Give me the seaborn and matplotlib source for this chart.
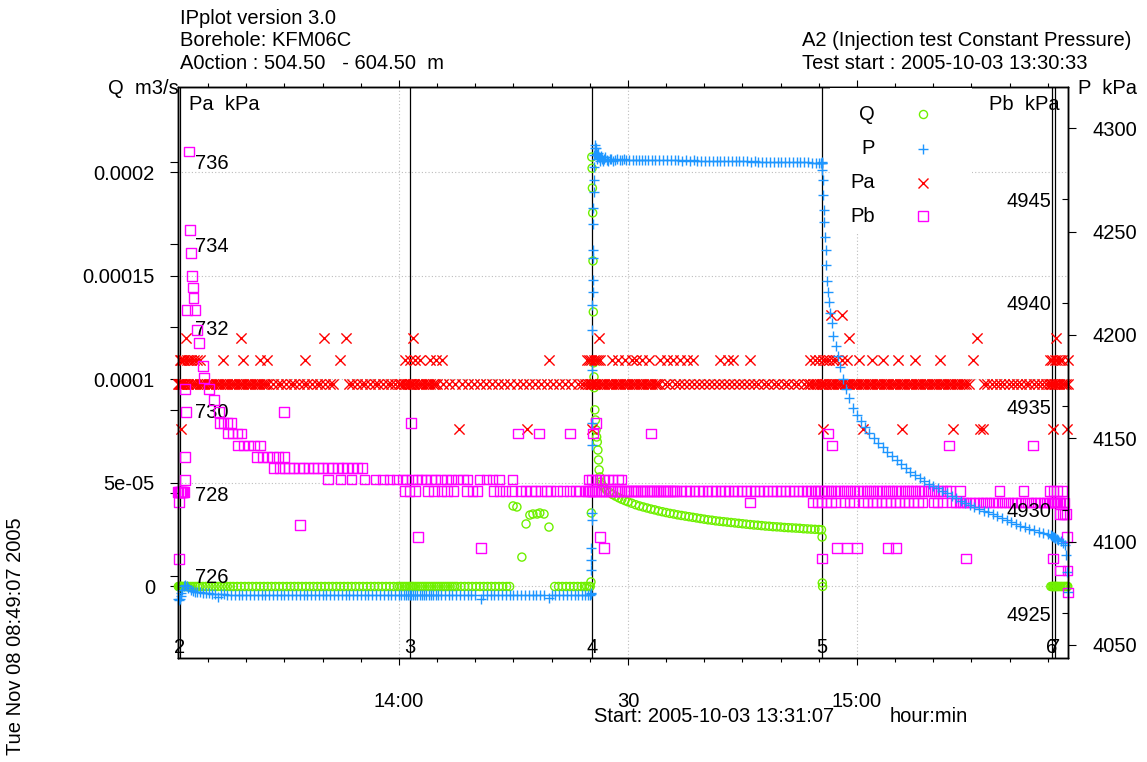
import matplotlib
matplotlib.use("Agg")
import matplotlib.pyplot as plt
from matplotlib.ticker import FixedLocator, FixedFormatter, MultipleLocator
from matplotlib.lines import Line2D
from matplotlib.patches import Rectangle
import pandas as pd
import seaborn as sns

plt.rcParams["font.family"] = ["Liberation Sans", "DejaVu Sans"]
FS = 14.5

# ---------------------------------------------------------------------------
# Time is given in minutes after 13:00 on 2005-10-03.
# ---------------------------------------------------------------------------
T_MIN, T_MAX = 31.05, 147.65
time_ticks = [60, 90, 120]
time_tick_labels = ["14:00", "30", "15:00"]

event_t = [31.3, 61.44, 85.25, 115.42, 145.5, 145.9]
event_labels = ["2", "3", "4", "5", "6", "7"]

# ---------------- Q, flow rate (m3/s) ----------------
Q_ZERO = 0.0
q_zero_t = [31.1, 31.2, 31.3, 31.4, 31.5, 31.6, 31.8, 32.0, 32.2, 32.4, 32.7, 33.0, 33.3,
            33.6, 33.9, 34.3, 34.7, 35.1, 35.5, 35.9, 36.3, 36.7, 37.1, 37.5, 37.9, 38.3,
            38.8, 39.3, 39.8, 40.3, 40.8, 41.3, 41.8, 42.3, 42.8, 43.3, 43.8, 44.3, 44.8,
            45.3, 45.8, 46.3, 46.8, 47.3, 47.8, 48.3, 48.8, 49.3, 49.8, 50.3, 50.8, 51.3,
            51.8, 52.3, 52.8, 53.3, 53.8, 54.3, 54.8, 55.3, 55.8, 56.3, 56.8, 57.3, 57.8,
            58.3, 58.8, 59.3, 59.8, 60.1, 60.4, 60.7, 61.0, 61.3, 61.5, 61.7, 61.9, 62.2,
            62.5, 62.8, 63.1, 63.4, 63.7, 64.0, 64.3, 64.6, 64.9, 65.2, 65.5, 65.8, 66.1,
            66.4, 66.7, 67.0, 67.3, 67.6, 68.1, 68.6, 69.1, 69.6, 70.1, 70.6, 71.1, 71.6,
            72.1, 72.6, 73.1, 73.6, 74.1, 74.5,
            80.4, 80.9, 81.4, 81.9, 82.4, 82.9, 83.4, 83.9, 84.3, 84.6, 84.9, 85.05,
            115.5,
            145.4, 145.55, 145.7, 145.8, 145.9, 146.0, 146.15, 146.3, 146.5, 146.7, 146.9,
            147.1, 147.3, 147.5, 147.62]
q_gap = [(74.95, 3.89e-5), (75.45, 3.84e-5), (76.1, 1.42e-5), (76.65, 3.02e-5),
         (77.15, 3.45e-5), (77.55, 3.50e-5), (78.1, 3.50e-5), (78.45, 3.55e-5),
         (79.0, 3.50e-5), (79.65, 2.87e-5)]
q_injection = [
    (85.15, 0.22e-5), (85.2, 3.55e-5), (85.26, 2.074e-4), (85.3, 2.02e-4), (85.34, 1.924e-4),
    (85.38, 1.804e-4), (85.42, 1.572e-4), (85.46, 1.326e-4), (85.5, 1.08e-4), (85.55, 1.012e-4),
    (85.58, 0.96e-4), (85.66, 0.853e-4), (85.74, 0.804e-4), (85.82, 0.756e-4), (85.9, 0.722e-4),
    (85.98, 0.698e-4), (86.06, 0.659e-4), (86.14, 0.611e-4), (86.22, 0.563e-4), (86.32, 0.529e-4),
    (86.45, 0.505e-4), (86.6, 0.49e-4),
    (86.8, 4.80e-5), (87.2, 4.66e-5), (87.6, 4.54e-5), (88.0, 4.44e-5), (88.4, 4.36e-5),
    (88.8, 4.28e-5), (89.2, 4.21e-5), (89.6, 4.15e-5), (90.0, 4.09e-5), (90.5, 4.02e-5),
    (91.0, 3.95e-5), (91.5, 3.89e-5), (92.0, 3.84e-5), (92.5, 3.79e-5), (93.0, 3.74e-5),
    (93.5, 3.70e-5), (94.0, 3.65e-5), (94.5, 3.61e-5), (95.0, 3.57e-5), (95.5, 3.53e-5),
    (96.0, 3.50e-5), (96.5, 3.46e-5), (97.0, 3.43e-5), (97.5, 3.40e-5), (98.0, 3.37e-5),
    (98.5, 3.34e-5), (99.0, 3.31e-5), (99.5, 3.28e-5), (100.0, 3.25e-5), (100.5, 3.22e-5),
    (101.0, 3.20e-5), (101.5, 3.17e-5), (102.0, 3.15e-5), (102.5, 3.13e-5), (103.0, 3.11e-5),
    (103.5, 3.09e-5), (104.0, 3.07e-5), (104.5, 3.05e-5), (105.0, 3.03e-5), (105.5, 3.01e-5),
    (106.0, 2.99e-5), (106.5, 2.97e-5), (107.0, 2.96e-5), (107.5, 2.94e-5), (108.0, 2.92e-5),
    (108.5, 2.91e-5), (109.0, 2.89e-5), (109.5, 2.88e-5), (110.0, 2.87e-5), (110.5, 2.85e-5),
    (111.0, 2.84e-5), (111.5, 2.83e-5), (112.0, 2.82e-5), (112.5, 2.81e-5), (113.0, 2.79e-5),
    (113.5, 2.78e-5), (114.0, 2.77e-5), (114.5, 2.76e-5), (115.0, 2.75e-5), (115.35, 2.74e-5),
    (115.43, 2.39e-5), (115.46, 0.17e-5)]

# ---------------- P, test section pressure (kPa) ----------------
p_start = [(31.1, 4072.3), (31.2, 4071.8), (31.3, 4072.4), (31.4, 4073.5), (31.5, 4075.0),
           (31.6, 4076.4), (31.8, 4078.5), (32.0, 4079.0), (32.2, 4078.3), (32.4, 4077.8),
           (32.7, 4076.5), (33.0, 4076.0), (33.3, 4075.7), (33.6, 4075.5), (33.9, 4075.6),
           (34.3, 4075.2), (34.7, 4075.0), (35.1, 4075.1), (35.5, 4074.8), (35.9, 4074.7),
           (36.3, 4073.3), (36.7, 4074.7), (37.1, 4074.5)]
P_PRE = 4074.2
p_pre_t = [37.5, 38.0, 38.5, 39.0, 39.5, 40.0, 40.5, 41.0, 41.5, 42.0, 42.5, 43.0, 43.5, 44.0,
           44.5, 45.0, 45.5, 46.0, 46.5, 47.0, 47.5, 48.0, 48.5, 49.0, 49.5, 50.0, 50.5, 51.0,
           51.5, 52.0, 52.5, 53.0, 53.5, 54.0, 54.5, 55.0, 55.5, 56.0, 56.5, 57.0, 57.5, 58.0,
           58.5, 59.0, 59.5, 60.0, 60.3, 60.6, 60.9, 61.2, 61.4, 61.6, 61.8, 62.1, 62.4, 62.7,
           63.0, 63.3, 63.6, 63.9, 64.2, 64.5, 64.8, 65.1, 65.5, 66.0, 66.5, 67.0, 67.5, 68.0,
           68.5, 69.0, 69.5, 70.0, 71.0, 71.5, 72.0, 72.5, 73.0, 73.5, 74.0, 74.5, 75.0, 75.5,
           76.0, 76.5, 77.0, 77.5, 78.0, 78.5, 79.0, 80.0, 80.5, 81.0, 81.5, 82.0, 82.5, 83.0,
           83.5, 84.0, 84.4, 84.7, 85.0]
p_low = [(70.7, 4072.3), (79.7, 4072.6)]
p_injection = [
    (85.12, 4074.5), (85.15, 4075.0), (85.17, 4086.3), (85.19, 4091.1), (85.21, 4096.9),
    (85.23, 4110.5), (85.25, 4113.9), (85.27, 4146.8), (85.29, 4157.4), (85.31, 4183.0),
    (85.33, 4202.4), (85.35, 4214.5), (85.37, 4220.8), (85.39, 4226.6), (85.41, 4237.2),
    (85.43, 4241.1), (85.45, 4253.7), (85.47, 4261.4), (85.49, 4269.2), (85.52, 4274.9),
    (85.55, 4281.2), (85.6, 4287.0), (85.66, 4290.5), (85.72, 4291.8), (85.8, 4290.3),
    (85.88, 4287.6), (85.96, 4285.2), (86.04, 4286.8), (86.12, 4288.0), (86.2, 4286.1),
    (86.3, 4284.3), (86.4, 4285.6), (86.5, 4286.4), (86.6, 4285.0), (86.75, 4284.0),
    (86.9, 4285.3), (87.05, 4286.0), (87.2, 4284.6), (87.4, 4284.2), (87.6, 4285.4),
    (87.8, 4285.1), (88.0, 4284.3), (88.3, 4284.9), (88.6, 4285.3), (88.9, 4284.5),
    (89.2, 4284.8), (89.5, 4285.1), (89.8, 4284.6), (90.2, 4284.9), (90.6, 4284.7),
    (91.0, 4284.9), (91.4, 4284.6), (91.8, 4284.8), (92.2, 4284.7), (92.6, 4284.8),
    (93.1, 4284.6), (93.6, 4284.7), (94.1, 4284.6), (94.6, 4284.7), (95.1, 4284.5),
    (95.6, 4284.6), (96.1, 4284.5), (96.6, 4284.6), (97.1, 4284.4), (97.6, 4284.5),
    (98.1, 4284.4), (98.6, 4284.5), (99.1, 4284.3), (99.6, 4284.4), (100.1, 4284.3),
    (100.6, 4284.4), (101.1, 4284.2), (101.6, 4284.3), (102.1, 4284.2), (102.6, 4284.2),
    (103.1, 4284.1), (103.6, 4284.2), (104.1, 4284.0), (104.6, 4284.1), (105.1, 4284.0),
    (105.6, 4284.0), (106.1, 4283.9), (106.6, 4284.0), (107.1, 4283.9), (107.6, 4283.9),
    (108.1, 4283.8), (108.6, 4283.9), (109.1, 4283.8), (109.6, 4283.8), (110.1, 4283.7),
    (110.6, 4283.7), (111.1, 4283.6), (111.6, 4283.7), (112.1, 4283.6), (112.6, 4283.6),
    (113.1, 4283.5), (113.6, 4283.5), (114.1, 4283.4), (114.6, 4283.4), (115.0, 4283.4),
    (115.3, 4283.3), (115.38, 4283.3), (115.4, 4283.5)]
p_recovery = [
    (115.42, 4283.2), (115.48, 4279.8), (115.54, 4274.9), (115.6, 4267.7), (115.66, 4260.4),
    (115.72, 4254.6), (115.8, 4247.4), (115.88, 4241.1), (115.96, 4233.8), (116.05, 4226.1),
    (116.15, 4220.8), (116.3, 4215.9), (116.5, 4210.6), (116.7, 4205.8), (116.9, 4199.5),
    (117.2, 4194.7), (117.5, 4189.8), (117.8, 4184.5), (118.2, 4178.7), (118.6, 4173.9),
    (119.0, 4169.5), (119.5, 4164.7), (120.0, 4161.3), (120.5, 4158.4), (121.0, 4155.5),
    (121.6, 4152.6), (122.2, 4150.1), (122.8, 4147.7), (123.4, 4145.8), (124.0, 4143.4),
    (124.6, 4141.4), (125.2, 4139.5), (125.8, 4137.6), (126.4, 4135.6), (127.0, 4133.7),
    (127.6, 4132.2), (128.2, 4130.8), (128.8, 4129.3), (129.4, 4127.9), (130.0, 4126.9),
    (130.6, 4126.0), (131.2, 4124.5), (131.8, 4123.5), (132.4, 4122.1), (133.0, 4121.1),
    (133.6, 4119.7), (134.2, 4118.7), (134.8, 4117.7), (135.4, 4116.8), (136.0, 4115.8),
    (136.6, 4114.8), (137.2, 4114.3), (137.8, 4113.4), (138.4, 4112.4), (139.0, 4111.4),
    (139.6, 4110.5), (140.2, 4109.5), (140.8, 4108.5), (141.4, 4107.6), (142.0, 4107.1),
    (142.6, 4106.1), (143.2, 4105.6), (143.8, 4104.7), (144.4, 4104.2), (145.0, 4103.7),
    (145.4, 4103.2), (145.6, 4102.7), (145.7, 4102.2), (145.8, 4102.2), (145.9, 4101.8),
    (146.0, 4101.8), (146.2, 4101.3), (146.4, 4100.8), (146.7, 4100.3), (147.0, 4099.3),
    (147.3, 4098.5), (147.45, 4093.5), (147.55, 4085.3), (147.62, 4075.6)]

# ---------------- Pa, pressure above packer (kPa) ----------------
PA_BAND = 730.64
pa_band_t = [31.1, 31.2, 31.3, 31.4, 31.5, 31.6, 31.8, 32.0, 32.2, 32.4, 32.7, 33.0, 33.3, 33.6,
             33.9, 34.2, 34.5, 34.8, 35.1, 35.4, 35.7, 36.0, 36.3, 36.6, 36.9, 37.2, 37.5, 37.8,
             38.1, 38.4, 38.7, 39.0, 39.3, 39.6, 39.9, 40.2, 40.5, 40.8, 41.1, 41.4, 41.7, 42.0,
             42.3, 42.6, 42.9, 43.5, 44.1, 44.6, 45.2, 45.8, 46.3, 46.9, 47.5, 48.0, 48.6, 49.2,
             49.7, 50.3, 50.9, 51.4, 53.4, 53.9, 54.5, 55.1, 55.6, 56.2, 56.8, 57.3, 57.9, 58.5,
             59.0, 59.5, 60.0, 60.3, 60.6, 60.9, 61.2, 61.4, 61.5, 61.6, 61.8, 62.0, 62.3, 62.6,
             62.9, 63.2, 63.5, 63.8, 64.1, 64.4, 64.7, 65.0, 65.8, 66.6, 67.4, 68.2, 69.0, 69.8,
             70.6, 71.4, 72.2, 73.0, 73.8, 74.6, 75.4, 76.2, 77.0, 77.8, 78.6, 79.4, 80.2, 81.0,
             81.8, 82.6, 83.4, 84.0, 84.4, 84.7, 85.0, 85.15, 85.3, 85.5, 85.7, 86.0, 86.3, 86.6,
             86.9, 87.2, 87.5, 87.8, 88.1, 88.4, 88.7, 89.0, 89.3, 89.6, 89.9, 90.2, 90.5, 90.8,
             91.1, 91.4, 91.7, 92.0, 92.3, 92.6, 92.9, 93.2, 93.5, 93.8, 94.1, 94.8, 95.4, 96.1,
             96.7, 97.4, 98.0, 98.7, 99.3, 100.0, 100.6, 101.3, 101.9, 102.6, 103.2, 103.9,
             104.5, 105.2, 105.8, 106.5, 107.1, 107.8, 108.4, 109.1, 109.7, 110.4, 111.0, 111.7,
             112.3, 113.0, 113.6, 113.9, 114.2, 114.5, 114.8, 115.1, 115.4, 115.6, 115.8, 116.0,
             116.3, 116.6, 116.9, 117.2, 117.5, 117.8, 118.1, 118.4, 118.7, 119.0, 119.3, 119.6,
             119.9, 120.2, 120.5, 120.8, 121.1, 121.4, 121.7, 122.0, 122.3, 122.6, 122.9, 123.2,
             123.5, 123.8, 124.1, 124.4, 124.7, 125.0, 125.3, 125.6, 125.9, 126.2, 126.5, 126.8,
             127.1, 127.4, 127.7, 128.0, 128.3, 128.6, 128.9, 129.2, 129.5, 129.8, 130.1, 130.4,
             130.7, 131.0, 131.3, 131.6, 131.9, 132.2, 132.5, 132.8, 133.1, 133.4, 133.7, 134.0,
             134.3, 134.7, 136.6, 137.1, 137.7, 138.2, 138.8, 139.3, 139.9, 140.4, 141.0, 141.5,
             142.1, 142.6, 143.2, 143.7, 144.3, 144.8, 145.2, 145.4, 145.6, 145.8, 146.0, 146.2,
             146.5, 146.8, 147.1, 147.4, 147.6]
PA_STEP1 = 731.20
pa_step1_t = [31.3, 31.5, 31.7, 31.9, 32.2, 32.5, 32.8, 33.1, 33.5, 33.9, 36.94, 39.56, 41.8,
              42.7, 47.7, 52.3, 60.8, 61.4, 62.1, 62.8, 64.0, 64.8, 65.6, 79.7, 84.6, 84.9,
              85.2, 85.5, 85.8, 86.1, 86.3, 87.9, 88.7, 89.6, 90.5, 91.0, 91.9, 92.8, 94.2,
              95.1, 95.9, 96.8, 97.7, 98.5, 102.1, 103.1, 103.8, 106.0, 113.8, 114.5, 115.0,
              115.5, 116.0, 116.4, 116.8, 117.3, 118.0, 118.7, 120.3, 122.0, 123.4, 125.4,
              127.6, 130.9, 135.2, 145.3, 145.6, 145.9, 146.2, 146.6, 146.9, 147.6]
PA_STEP2 = 731.74
pa_step2_t = [32.1, 39.3, 50.2, 53.1, 61.8, 86.2, 119.0, 135.7, 146.1]
PA_STEP3 = 732.30
pa_step3_t = [116.6, 118.1]
PA_LOW = 729.55
pa_low_t = [31.4, 67.9, 76.8, 85.3, 115.55, 120.8, 125.9, 132.6, 136.1, 136.5, 145.7, 147.5]

# ---------------- Pb, pressure below packer (kPa) ----------------
pb_start = [
    (31.0, 4930.86), (31.15, 4930.86), (31.3, 4930.86), (31.45, 4930.86), (31.6, 4930.86),
    (31.75, 4930.86), (31.9, 4930.86), (31.18, 4930.38), (31.18, 4927.62), (31.96, 4935.84),
    (32.09, 4934.73), (31.96, 4932.55), (31.96, 4931.44), (32.49, 4947.33), (32.62, 4943.52),
    (32.75, 4942.41), (32.88, 4941.30), (33.01, 4940.76), (33.05, 4940.23), (32.23, 4939.65),
    (33.27, 4939.65), (33.53, 4938.69), (33.80, 4938.06), (34.32, 4936.95), (34.45, 4936.37),
    (35.11, 4935.84), (35.76, 4935.31), (36.42, 4934.73), (36.55, 4934.20), (37.0, 4934.20),
    (37.5, 4934.20), (38.0, 4934.20), (37.6, 4933.67), (38.2, 4933.67), (38.8, 4933.67),
    (39.4, 4933.67), (38.9, 4933.09), (39.6, 4933.09), (40.3, 4933.09), (41.0, 4933.09),
    (41.8, 4933.09), (41.4, 4932.55), (42.1, 4932.55), (42.8, 4932.55), (43.5, 4932.55),
    (44.2, 4932.55), (45.0, 4932.55)]
PB_ROW1 = 4932.02
pb_row1_t = [43.6, 44.3, 45.0, 45.6, 46.2, 46.9, 47.5, 48.1, 48.8, 49.4, 50.0, 50.7, 51.3, 52.0,
             52.6, 53.2, 53.9, 54.6, 55.2]
PB_ROW2 = 4931.46
pb_row2_t = [50.7, 52.3, 53.8, 55.5, 56.9, 57.9, 58.8, 59.7, 60.5, 61.0, 61.7, 62.4, 62.9, 63.5,
             64.2, 64.8, 65.5, 66.2, 66.9, 67.7, 68.4, 69.0, 70.6, 71.5, 72.3, 73.1, 74.9, 84.8,
             85.3, 85.8, 86.3, 86.9, 87.4, 88.0, 88.7, 89.2]
PB_ROW3 = 4930.91
pb_row3_t = [60.8, 61.4, 62.1, 63.8, 64.6, 65.6, 66.3, 67.1, 68.9, 69.6, 70.3, 72.4, 73.2, 74.0,
             74.8, 75.9, 76.6, 77.3, 77.9, 78.6, 79.3, 79.9, 80.7, 81.5, 82.3, 83.1, 83.7, 84.4,
             84.7, 85.0, 85.2, 85.4, 85.6, 85.9, 86.2, 86.5, 86.8, 87.1, 87.4, 87.7, 88.0, 88.3,
             88.6, 88.9, 89.2, 89.5, 89.8, 90.1, 90.4, 90.7, 91.0, 91.3, 91.6, 91.9, 92.2, 92.5,
             92.8, 93.1, 93.4, 93.7, 94.0, 94.3, 94.6, 94.9, 95.2, 95.5, 95.8, 96.1, 96.4, 97.0,
             97.6, 98.1, 98.7, 99.3, 99.8, 100.4, 101.0, 101.5, 102.1, 102.7, 103.2, 103.8,
             104.4, 104.9, 105.5, 106.1, 106.6, 107.2, 107.8, 108.3, 108.9, 109.5, 110.0, 110.6,
             111.2, 111.7, 112.3, 112.9, 113.4, 113.9, 114.4, 114.9, 115.3, 115.7, 116.2, 116.7,
             117.2, 117.7, 118.2, 118.7, 119.2, 119.7, 120.2, 120.7, 121.2, 121.7, 122.2, 122.7,
             123.2, 123.7, 124.2, 124.7, 125.2, 125.7, 126.2, 126.7, 127.2, 127.7, 128.2, 128.7,
             129.2, 129.7, 130.2, 130.7, 131.2, 131.7, 132.2, 133.5, 138.7, 141.8, 145.3, 145.7,
             146.2, 146.9]
PB_ROW4 = 4930.34
pb_row4_t = [106.0, 114.2, 114.8, 115.4, 116.0, 116.6, 117.2, 118.4, 119.0, 119.6, 120.8, 121.4,
             122.0, 122.6, 123.2, 123.8, 124.4, 125.0, 125.6, 126.2, 126.8, 127.4, 128.0, 128.6,
             130.0, 130.6, 131.2, 132.4, 132.9, 133.4, 133.9, 134.4, 134.9, 135.4, 135.9, 136.4,
             136.9, 137.4, 137.9, 138.4, 138.9, 139.4, 139.9, 140.4, 140.9, 141.4, 141.9, 142.4,
             142.9, 143.4, 143.9, 144.4, 144.9, 145.3, 145.5, 145.7, 145.9, 146.1, 146.3, 146.5,
             146.7, 147.0, 147.2]
pb_scatter = [
    (44.93, 4934.73), (47.03, 4929.27), (61.57, 4934.20), (62.49, 4928.69), (70.74, 4928.16),
    (75.59, 4933.67), (78.34, 4933.67), (82.4, 4933.67), (85.42, 4933.67), (85.81, 4934.20),
    (86.33, 4928.69), (86.86, 4928.16), (93.01, 4933.67), (116.2, 4933.67), (116.73, 4933.09),
    (132.06, 4933.09), (143.06, 4933.09), (117.38, 4928.16), (118.69, 4928.16), (120.0, 4928.16),
    (124.06, 4928.16), (125.11, 4928.16), (115.42, 4927.63), (134.29, 4927.63), (145.68, 4927.63),
    (146.6, 4929.80), (146.9, 4929.80), (147.2, 4929.80), (147.5, 4929.80), (147.52, 4928.69),
    (146.6, 4927.05), (147.55, 4927.05), (147.65, 4925.99)]

# ---------------- axis ranges ----------------
Q_LIM = (-3.453e-5, 2.412e-4)
PA_LIM = (724.02, 737.80)
PB_LIM = (4922.84, 4950.43)
P_LIM = (4043.7, 4320.0)

q_ticks = [0, 5e-5, 1e-4, 1.5e-4, 2e-4]
q_tick_labels = ["0", "5e-05", "0.0001", "0.00015", "0.0002"]
pa_ticks = [726, 728, 730, 732, 734, 736]
pb_ticks = [4925, 4930, 4935, 4940, 4945]
p_ticks = [4050, 4100, 4150, 4200, 4250, 4300]

C_Q, C_P, C_PA, C_PB = "#6ff000", "#1e96ff", "#ff0000", "#ff00ff"
S_Q, S_P, S_PA, S_PB = 34, 60, 54, 44
LW = 1.0


def frame(times, values):
    return pd.DataFrame({"t": times, "v": values})


def pairs(seq):
    return frame([a for a, _ in seq], [b for _, b in seq])


def draw(ax, df, marker, color, size, lw=LW):
    kw = dict(marker=marker, s=size, linewidth=lw, clip_on=False, legend=False)
    if marker in ("o", "s"):
        kw.update(facecolors="none", edgecolor=color, color=color)
    else:
        kw.update(color=color)
    sns.scatterplot(data=df, x="t", y="v", ax=ax, **kw)
    ax.set_xlabel("")
    ax.set_ylabel("")


W, H = 1147, 762
L, R, T, B = 178, 1068, 87, 658


def fx(x):
    return x / W


def fy(y):
    return 1 - y / H


fig = plt.figure(figsize=(W / 100, H / 100), dpi=100)
fig.patch.set_facecolor("white")
ax_q = fig.add_axes([fx(L), fy(B), (R - L) / W, (B - T) / H])
ax_pa = ax_q.twinx()
ax_pb = ax_q.twinx()
ax_p = ax_q.twinx()
for z, a in enumerate([ax_q, ax_pa, ax_pb, ax_p], start=1):
    a.set_zorder(z)
    if a is not ax_q:
        a.patch.set_visible(False)
    for sp in a.spines.values():
        sp.set_color("black")
        sp.set_linewidth(0.9)

# event markers
for t, lab in zip(event_t, event_labels):
    ax_q.axvline(t, color="black", linewidth=0.9, zorder=1)
    ax_q.text(t, 0.008, lab, transform=ax_q.get_xaxis_transform(), ha="center",
              va="baseline", fontsize=FS, zorder=2)

# series
draw(ax_q, frame(q_zero_t, Q_ZERO), "o", C_Q, S_Q)
draw(ax_q, pairs(q_gap), "o", C_Q, S_Q)
draw(ax_q, pairs(q_injection), "o", C_Q, S_Q)

draw(ax_pa, frame(pa_band_t, PA_BAND), "x", C_PA, S_PA)
draw(ax_pa, frame(pa_step1_t, PA_STEP1), "x", C_PA, S_PA)
draw(ax_pa, frame(pa_step2_t, PA_STEP2), "x", C_PA, S_PA)
draw(ax_pa, frame(pa_step3_t, PA_STEP3), "x", C_PA, S_PA)
draw(ax_pa, frame(pa_low_t, PA_LOW), "x", C_PA, S_PA)

draw(ax_pb, pairs(pb_start), "s", C_PB, S_PB)
draw(ax_pb, frame(pb_row1_t, PB_ROW1), "s", C_PB, S_PB)
draw(ax_pb, frame(pb_row2_t, PB_ROW2), "s", C_PB, S_PB)
draw(ax_pb, frame(pb_row3_t, PB_ROW3), "s", C_PB, S_PB)
draw(ax_pb, frame(pb_row4_t, PB_ROW4), "s", C_PB, S_PB)
draw(ax_pb, pairs(pb_scatter), "s", C_PB, S_PB)

draw(ax_p, pairs(p_start), "+", C_P, S_P)
draw(ax_p, frame(p_pre_t, P_PRE), "+", C_P, S_P)
draw(ax_p, pairs(p_low), "+", C_P, S_P)
draw(ax_p, pairs(p_injection), "+", C_P, S_P)
draw(ax_p, pairs(p_recovery), "+", C_P, S_P)

# x axis (clock time)
ax_q.set_xlim(T_MIN, T_MAX)
ax_q.xaxis.set_major_locator(FixedLocator(time_ticks))
ax_q.xaxis.set_major_formatter(FixedFormatter(time_tick_labels))
ax_q.xaxis.set_minor_locator(MultipleLocator(5))
ax_q.tick_params(axis="x", which="major", direction="out", length=5.3, width=0.8,
                 top=True, bottom=True, labeltop=False, pad=19.5, labelsize=FS, colors="black")
ax_q.tick_params(axis="x", which="minor", direction="out", length=3.0, width=0.8,
                 top=True, bottom=True)

# Q axis
ax_q.set_ylim(*Q_LIM)
ax_q.yaxis.set_major_locator(FixedLocator(q_ticks))
ax_q.yaxis.set_major_formatter(FixedFormatter(q_tick_labels))
ax_q.tick_params(axis="y", direction="out", length=5.8, width=0.8, pad=10.8,
                 labelsize=FS, left=True, right=False, colors="black")
ax_q.grid(True, which="major", color="#bdbdbd", linestyle=(0, (1, 2)), linewidth=0.8)
ax_q.set_axisbelow(True)

# Pa axis (left, labels inside)
ax_pa.set_ylim(*PA_LIM)
ax_pa.yaxis.tick_left()
ax_pa.yaxis.set_major_locator(FixedLocator(pa_ticks))
ax_pa.yaxis.set_major_formatter(FixedFormatter([str(v) for v in pa_ticks]))
ax_pa.tick_params(axis="y", direction="out", length=5.8, width=0.8, pad=-18,
                  labelsize=FS, left=True, right=False, labelleft=True, labelright=False,
                  colors="black")
for lab in ax_pa.get_yticklabels():
    lab.set_horizontalalignment("left")

# Pb axis (right, labels inside)
ax_pb.set_ylim(*PB_LIM)
ax_pb.yaxis.set_major_locator(FixedLocator(pb_ticks))
ax_pb.yaxis.set_major_formatter(FixedFormatter([str(v) for v in pb_ticks]))
ax_pb.tick_params(axis="y", direction="in", length=4.3, width=0.8, pad=-12.2,
                  labelsize=FS, colors="black")
for lab in ax_pb.get_yticklabels():
    lab.set_horizontalalignment("right")

# P axis (right, outside)
ax_p.set_ylim(*P_LIM)
ax_p.yaxis.set_major_locator(FixedLocator(p_ticks))
ax_p.yaxis.set_major_formatter(FixedFormatter([str(v) for v in p_ticks]))
ax_p.tick_params(axis="y", direction="out", length=5.8, width=0.8, pad=11.5,
                 labelsize=FS, colors="black")

ax_q.set_xlim(T_MIN, T_MAX)

# header and axis captions
txt = dict(fontsize=FS, color="black", va="center")
fig.text(fx(180), fy(18), "IPplot version 3.0", ha="left", **txt)
fig.text(fx(180), fy(41), "Borehole: KFM06C", ha="left", **txt)
fig.text(fx(180), fy(63.5), "A0ction : 504.50   - 604.50  m", ha="left", **txt)
fig.text(fx(802), fy(41), "A2 (Injection test Constant Pressure)", ha="left", **txt)
fig.text(fx(802), fy(63.5), "Test start : 2005-10-03 13:30:33", ha="left", **txt)
fig.text(fx(179), fy(88), "Q  m3/s", ha="right", **txt)
fig.text(fx(1078), fy(88), "P  kPa", ha="left", **txt)
fig.text(fx(189), fy(104), "Pa  kPa", ha="left", zorder=8, **txt)
fig.text(fx(1060), fy(104), "Pb  kPa", ha="right", zorder=8, **txt)
fig.text(fx(594), fy(717), "Start: 2005-10-03 13:31:07", ha="left", **txt)
fig.text(fx(890), fy(717), "hour:min", ha="left", **txt)
fig.text(fx(16), fy(636), "Tue Nov 08 08:49:07 2005", rotation=90, ha="center",
         fontsize=FS, color="black", va="center")

# key
fig.add_artist(Rectangle((fx(830), fy(233)), (972 - 830) / W, (233 - 88) / H,
                         transform=fig.transFigure, facecolor="white", edgecolor="none",
                         zorder=10))
key = [("Q", "o", C_Q, S_Q), ("P", "+", C_P, S_P), ("Pa", "x", C_PA, S_PA), ("Pb", "s", C_PB, S_PB)]
for (name, mk, col, s), yk in zip(key, [114, 149, 182.5, 216]):
    fig.text(fx(875), fy(yk), name, ha="right", zorder=11, **txt)
    filled = mk in ("o", "s")
    fig.add_artist(Line2D([fx(923)], [fy(yk)], transform=fig.transFigure, marker=mk,
                          markersize=s ** 0.5, linestyle="none", markeredgewidth=LW,
                          markeredgecolor=col, markerfacecolor="none" if filled else col,
                          zorder=11))

fig.savefig("out.png", dpi=100, facecolor="white")
